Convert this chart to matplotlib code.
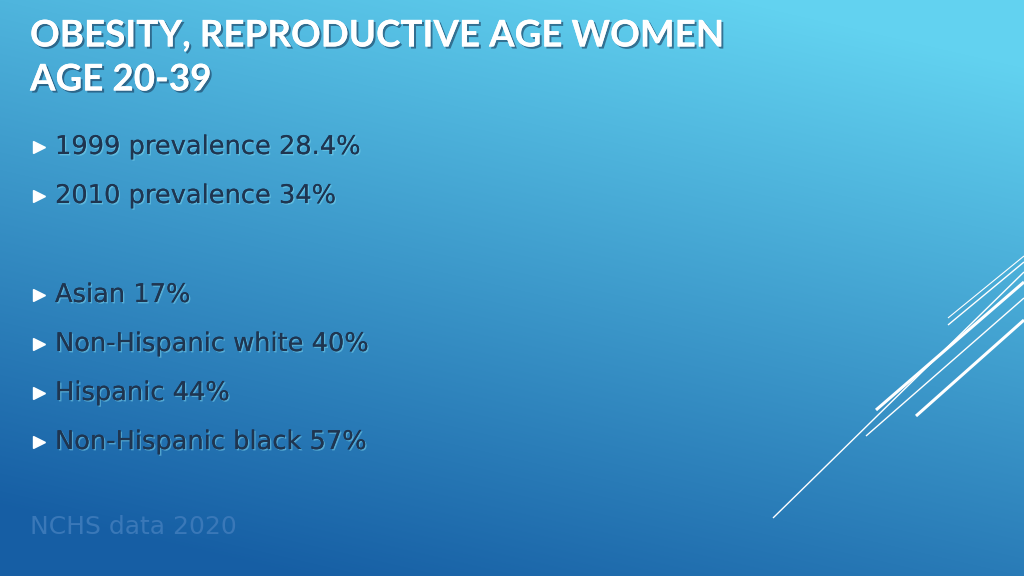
import numpy as np
import matplotlib
matplotlib.use("Agg")
import matplotlib.pyplot as plt
import matplotlib.patheffects as pe

title_lines = ["OBESITY, REPRODUCTIVE AGE WOMEN", "AGE 20-39"]
bullets_a = ["1999 prevalence 28.4%", "2010 prevalence 34%"]
bullets_b = ["Asian 17%", "Non-Hispanic white 40%", "Hispanic 44%", "Non-Hispanic black 57%"]
source = "NCHS data 2020"

W, H = 1024, 576
fig = plt.figure(figsize=(W/100, H/100), dpi=100)
ax = fig.add_axes([0, 0, 1, 1])
ax.set_axis_off()
yy, xx = np.mgrid[0:H, 0:W]
t = np.clip(0.85*(yy/H) + 0.35*(1 - xx/W) - 0.1, 0, 1)
top = np.array([0x62, 0xd2, 0xf0]) / 255
bot = np.array([0x16, 0x5e, 0xa4]) / 255
img = top[None, None, :]*(1 - t[..., None]) + bot[None, None, :]*t[..., None]
ax.imshow(img, extent=[0, W, H, 0], aspect='auto')
ax.set_xlim(0, W); ax.set_ylim(H, 0)

shadow = [pe.withSimplePatchShadow(offset=(1.5, -1.5), shadow_rgbFace='#1a3a5a', alpha=0.6), pe.Normal()]
for i, s in enumerate(title_lines):
    ax.text(30, 36 + i*44, s, color='white', fontsize=26.5, fontweight='bold',
            family='Lato', va='center', ha='left', path_effects=shadow)

def bullet(y, s):
    ax.plot([39], [y], marker='>', color='white', markersize=8, linestyle='none')
    ax.text(55, y, s, color='#1f3550', fontsize=18.5, family='DejaVu Sans', va='center', ha='left',
            path_effects=[pe.withSimplePatchShadow(offset=(1, -1), shadow_rgbFace='#7fd8f0', alpha=0.5), pe.Normal()])

for i, s in enumerate(bullets_a):
    bullet(147 + i*49, s)
for i, s in enumerate(bullets_b):
    bullet(295 + i*49, s)
ax.text(30, 527, source, color='#3a78b8', fontsize=18, family='DejaVu Sans', va='center', ha='left')

segs = [((948, 325), (1024, 262), 1.0), ((948, 318), (1024, 256), 0.8),
        ((876, 410), (1024, 282), 2.2), ((916, 416), (1024, 320), 2.2),
        ((773, 518), (1024, 272), 1.0), ((866, 436), (1024, 298), 1.0)]
for (x0, y0), (x1, y1), lw in segs:
    ax.plot([x0, x1], [y0, y1], color='white', lw=lw, solid_capstyle='butt')

fig.savefig("out.png", dpi=100)
